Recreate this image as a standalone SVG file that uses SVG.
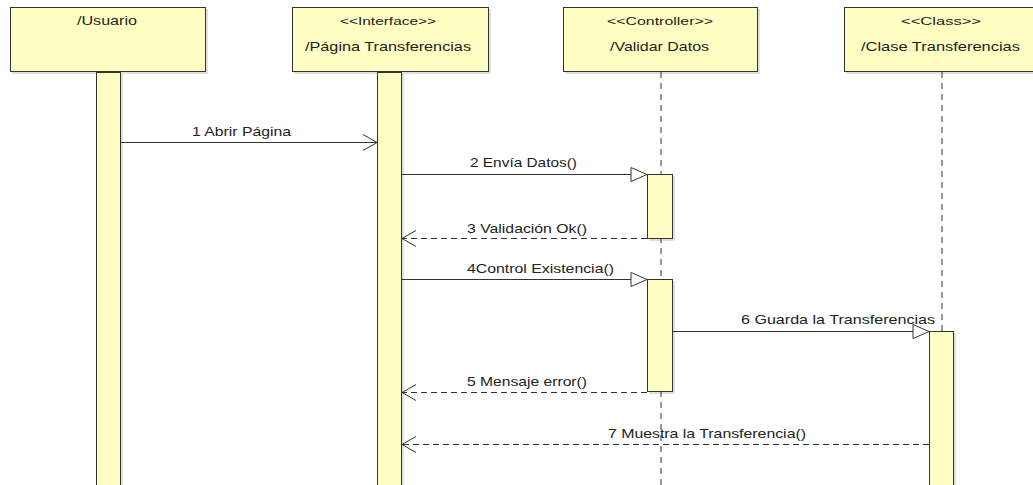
<svg xmlns="http://www.w3.org/2000/svg" width="1033" height="485" viewBox="0 0 1033 485">
<style>
.box{fill:#FFFFC3;stroke:#333;stroke-width:1}
.shadow{fill:#000;opacity:0.12}
.act{fill:#FFFFC3;stroke:#333;stroke-width:1}
.life{stroke:#333;stroke-width:1;stroke-dasharray:6,5;fill:none}
.msg{stroke:#333;stroke-width:1;fill:none}
.ret{stroke:#333;stroke-width:1;fill:none;stroke-dasharray:6,4}
.t{font-family:"Liberation Sans",Arial,sans-serif;font-size:13px;fill:#222}
.st{font-family:"Liberation Sans",Arial,sans-serif;font-size:11.5px;fill:#222}
.l{font-family:"Liberation Sans",Arial,sans-serif;font-size:13px;fill:#222}
</style>
<defs>
<marker id="open" markerWidth="16" markerHeight="18" refX="15" refY="9" orient="auto" markerUnits="userSpaceOnUse">
<path d="M1,1 L15,9 L1,17" fill="none" stroke="#333" stroke-width="1"/>
</marker>
<marker id="tri" markerWidth="18" markerHeight="16" refX="17" refY="8" orient="auto" markerUnits="userSpaceOnUse">
<path d="M1,1 L17,8 L1,15 Z" fill="#fff" stroke="#333" stroke-width="1"/>
</marker>
</defs>
<rect width="1033" height="485" fill="#fff"/>

<g id="lifelines">
<line class="life" x1="661" y1="72" x2="661" y2="485"/>
<line class="life" x1="942" y1="72" x2="942" y2="331"/>
</g>

<g id="usuario">
<rect class="shadow" x="12" y="9" width="196" height="65"/>
<rect class="box" x="10.5" y="7.5" width="195" height="64"/>
<text class="t" x="77" y="25" textLength="60" lengthAdjust="spacingAndGlyphs">/Usuario</text>
<rect class="shadow" x="98" y="74" width="25" height="411"/>
<rect class="act" x="96.5" y="72.5" width="24" height="420"/>
</g>

<g id="pagina">
<rect class="shadow" x="294" y="9" width="197" height="65"/>
<rect class="box" x="292.5" y="7.5" width="196" height="64"/>
<text class="st" x="340" y="25" textLength="96" lengthAdjust="spacingAndGlyphs">&lt;&lt;Interface&gt;&gt;</text>
<text class="t" x="305" y="51" textLength="166" lengthAdjust="spacingAndGlyphs">/Página Transferencias</text>
<rect class="shadow" x="379" y="74" width="25" height="411"/>
<rect class="act" x="377.5" y="72.5" width="24" height="420"/>
</g>

<g id="validar">
<rect class="shadow" x="565" y="9" width="195" height="65"/>
<rect class="box" x="563.5" y="7.5" width="194" height="64"/>
<text class="st" x="607" y="25" textLength="106" lengthAdjust="spacingAndGlyphs">&lt;&lt;Controller&gt;&gt;</text>
<text class="t" x="610" y="51" textLength="99" lengthAdjust="spacingAndGlyphs">/Validar Datos</text>
<rect class="shadow" x="649" y="176" width="26" height="65"/>
<rect class="act" x="647.5" y="174.5" width="25" height="64"/>
<rect class="shadow" x="649" y="281" width="26" height="113"/>
<rect class="act" x="647.5" y="279.5" width="25" height="112"/>
</g>

<g id="clase">
<rect class="shadow" x="846" y="9" width="190" height="65"/>
<rect class="box" x="844.5" y="7.5" width="192" height="64"/>
<text class="st" x="901" y="25" textLength="80" lengthAdjust="spacingAndGlyphs">&lt;&lt;Class&gt;&gt;</text>
<text class="t" x="861" y="51" textLength="159" lengthAdjust="spacingAndGlyphs">/Clase Transferencias</text>
<rect class="shadow" x="931" y="333" width="25" height="152"/>
<rect class="act" x="929.5" y="331.5" width="24" height="160"/>
</g>

<g id="connectors">
<line class="msg" x1="121" y1="142.5" x2="377" y2="142.5" marker-end="url(#open)"/>
<text class="l" x="192" y="136" textLength="99" lengthAdjust="spacingAndGlyphs">1 Abrir Página</text>
<line class="msg" x1="402" y1="174.5" x2="647" y2="174.5" marker-end="url(#tri)"/>
<text class="l" x="470" y="167" textLength="107" lengthAdjust="spacingAndGlyphs">2 Envía Datos()</text>
<line class="ret" x1="647" y1="238.5" x2="402" y2="238.5" marker-end="url(#open)"/>
<text class="l" x="467" y="233" textLength="120" lengthAdjust="spacingAndGlyphs">3 Validación Ok()</text>
<line class="msg" x1="402" y1="279.5" x2="647" y2="279.5" marker-end="url(#tri)"/>
<text class="l" x="467" y="273" textLength="147" lengthAdjust="spacingAndGlyphs">4Control Existencia()</text>
<line class="msg" x1="673" y1="331.5" x2="929" y2="331.5" marker-end="url(#tri)"/>
<text class="l" x="741" y="324" textLength="194" lengthAdjust="spacingAndGlyphs">6 Guarda la Transferencias</text>
<line class="ret" x1="647" y1="392.5" x2="402" y2="392.5" marker-end="url(#open)"/>
<text class="l" x="467" y="386" textLength="120" lengthAdjust="spacingAndGlyphs">5 Mensaje error()</text>
<line class="ret" x1="929" y1="444.5" x2="402" y2="444.5" marker-end="url(#open)"/>
<text class="l" x="608" y="438" textLength="198" lengthAdjust="spacingAndGlyphs">7 Muestra la Transferencia()</text>
</g>
</svg>
